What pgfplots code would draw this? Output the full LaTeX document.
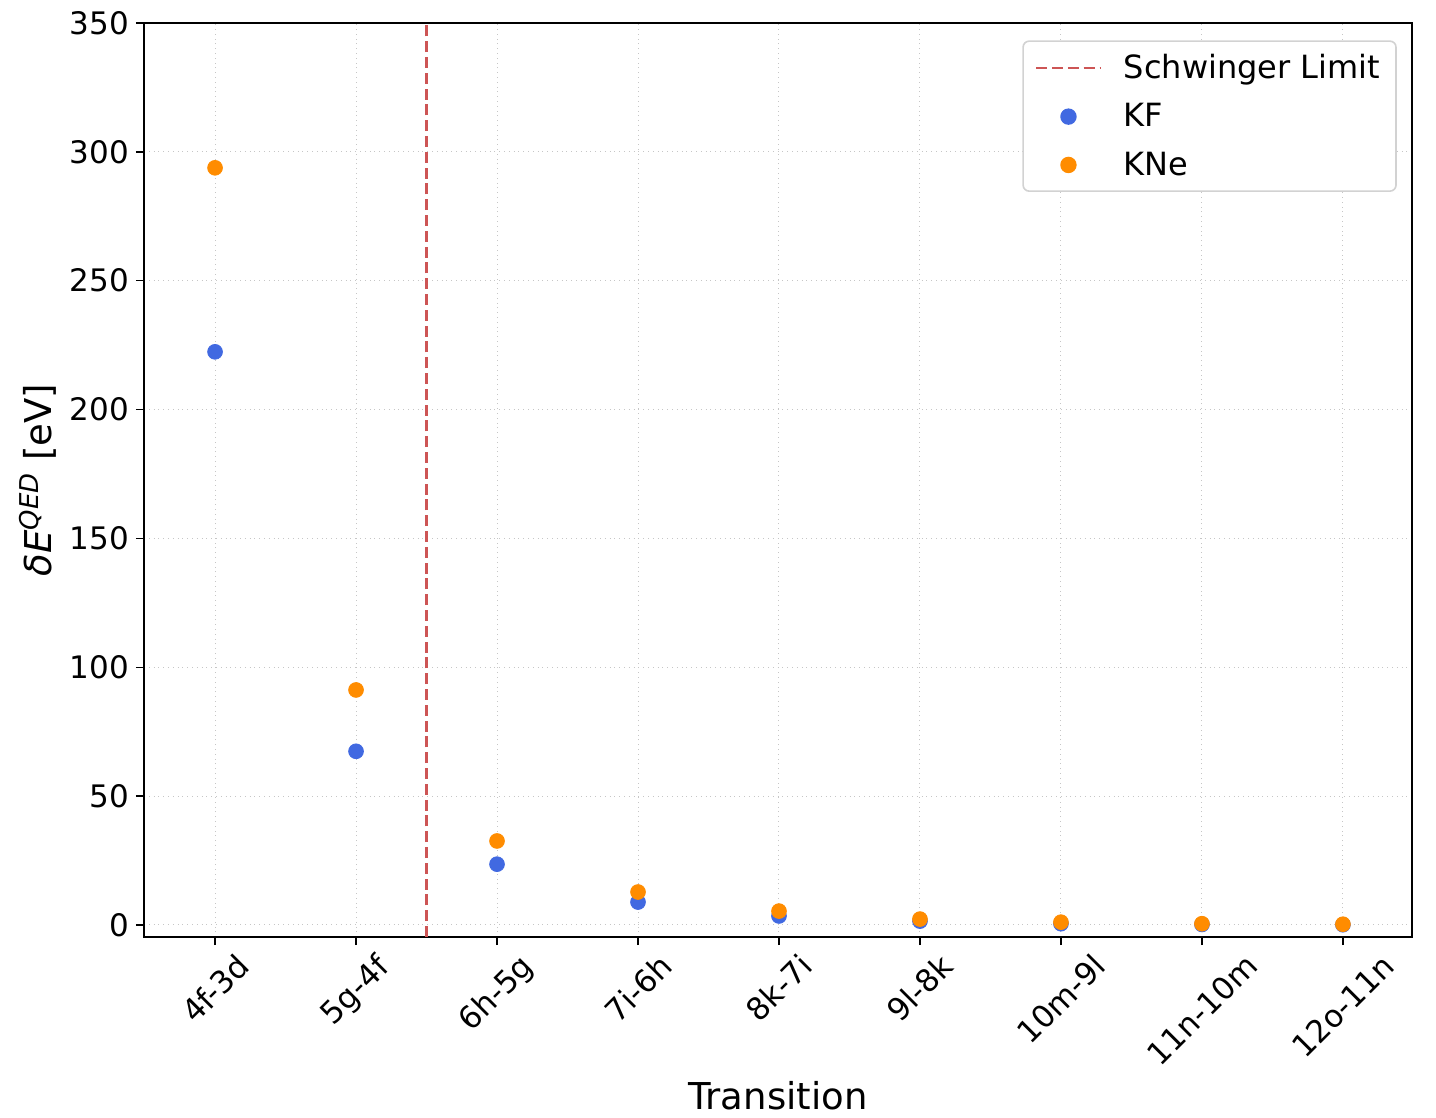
\documentclass[border=0pt]{standalone}
\usepackage{pgfplots}
\pgfplotsset{compat=1.18}
\usepackage{fontspec}
\setmainfont{DejaVu Sans}
\definecolor{kf}{RGB}{65,105,225}
\definecolor{kne}{RGB}{255,140,0}
\definecolor{schw}{RGB}{205,85,85}
\begin{document}
\begin{tikzpicture}
\begin{axis}[
  name=ax,
  scale only axis,
  width=634pt, height=457pt,
  xmin=-0.504, xmax=8.49,
  ymin=-4.66, ymax=350,
  xtick={0,1,2,3,4,5,6,7,8},
  xticklabels={\rotatebox{45}{4f-3d},\rotatebox{45}{5g-4f},\rotatebox{45}{6h-5g},\rotatebox{45}{7i-6h},\rotatebox{45}{8k-7i},\rotatebox{45}{9l-8k},\rotatebox{45}{10m-9l},\rotatebox{45}{11n-10m},\rotatebox{45}{12o-11n}},
  ytick={0,50,100,150,200,250,300,350},
  /pgf/number format/assume math mode=true,
  tick label style={font=\fontsize{15.5}{18}\selectfont},
  label style={font=\fontsize{18.5}{22}\selectfont},
  xlabel={Transition},
  ylabel={\textit{δE}\textsuperscript{\textit{QED}} [eV]},
  tick align=outside,
  major tick length=4pt,
  xtick pos=bottom, ytick pos=left,
  tick style={black, line width=0.7pt},
  axis line style={black, line width=0.8pt},
  grid=major,
  grid style={gray!45, dotted, line width=0.5pt},
  legend style={at={(0.988,0.981)}, anchor=north east, draw=gray!35, rounded corners=3pt, line width=0.8pt,
    font=\fontsize{16}{19}\selectfont, row sep=7pt, inner xsep=6pt, inner ysep=4.5pt,
    /tikz/every odd column/.append style={column sep=9pt}},
  legend cell align=left,
  legend image code/.code={\draw[mark repeat=2,mark phase=2,#1] plot coordinates {(0cm,0cm) (0.565cm,0cm) (1.13cm,0cm)};},
]
\addplot[schw, line width=1.2pt, dash pattern=on 5.5pt off 2.4pt] coordinates {(1.5,-4.66) (1.5,350)};
\addlegendentry{Schwinger Limit}
\addplot[only marks, mark=*, mark size=3.7pt, mark options={draw=kf, fill=kf}] coordinates {
(0,222.4) (1,67.4) (2,23.6) (3,8.9) (4,3.5) (5,1.5) (6,0.5) (7,0.2) (8,0.1)};
\addlegendentry{KF}
\addplot[only marks, mark=*, mark size=3.7pt, mark options={draw=kne, fill=kne}] coordinates {
(0,293.8) (1,91.2) (2,32.6) (3,12.8) (4,5.4) (5,2.3) (6,1.1) (7,0.5) (8,0.3)};
\addlegendentry{KNe}
\end{axis}
\pgfresetboundingbox
\path[use as bounding box] ([shift={(-72pt,-90pt)}]ax.south west) rectangle ([shift={(12pt,11.5pt)}]ax.north east);
\end{tikzpicture}
\end{document}
